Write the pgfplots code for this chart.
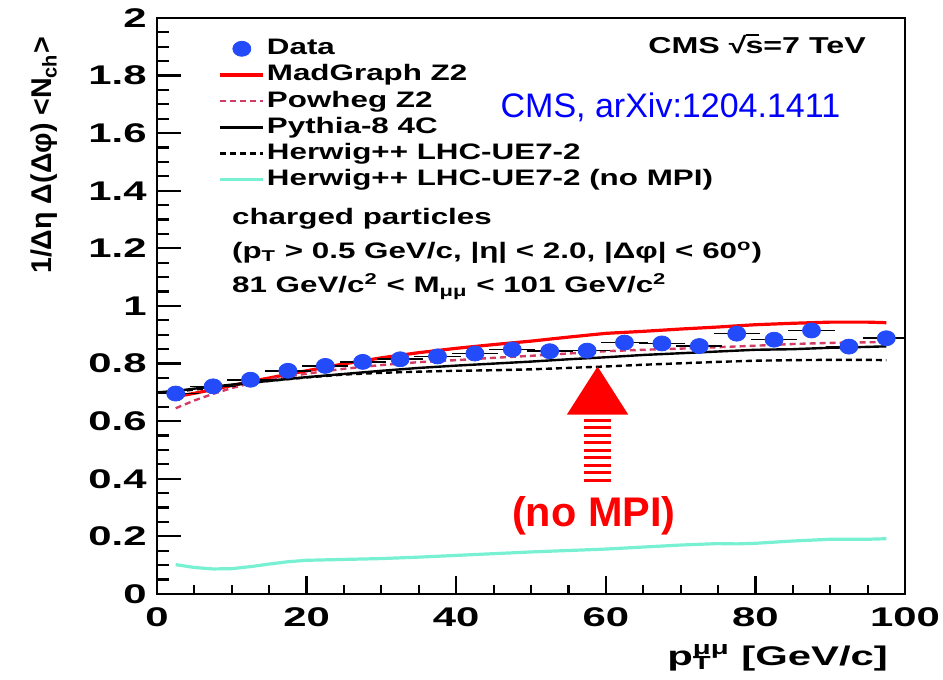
\documentclass[border=0pt]{standalone}
\usepackage{pgfplots}
\pgfplotsset{compat=1.18}
\usepackage{fontspec}
\setmainfont{Liberation Sans}
\newfontfamily\rootfont{Liberation Sans Bold}[FakeStretch=1.4]
\newfontfamily\tickfont{Liberation Sans Bold}[FakeStretch=1.55]
\definecolor{datablue}{RGB}{35,75,250}
\definecolor{powpink}{RGB}{210,60,100}
\definecolor{nompi}{RGB}{120,240,210}
\begin{document}
\begin{tikzpicture}
\begin{axis}[
  scale only axis,
  width=374pt, height=288pt,
  xmin=0, xmax=100, ymin=0, ymax=2,
  clip mode=individual,
  xtick={0,20,40,60,80,100},
  ytick={0,0.2,0.4,0.6,0.8,1,1.2,1.4,1.6,1.8,2},
  major tick length=0pt, minor tick length=0pt,
  axis line style={line width=1pt},
  /pgf/number format/assume math mode=true,
  ticklabel style={font=\tickfont\fontsize{13.5}{16}\selectfont},
  yticklabel style={inner sep=0pt, xshift=-5pt},
  xticklabel style={inner sep=0pt, yshift=-6.5pt},
  legend style={at={(rel axis cs:0.082,0.97)}, anchor=north west, draw=none, fill=none,
    font=\rootfont\fontsize{11.2}{13}\selectfont, row sep=0pt, inner sep=0pt,
    nodes={inner sep=1pt, text height=8.5pt, text depth=2.6pt}},
  legend cell align=left,
  legend image code/.code={\draw[mark repeat=2,mark phase=2,#1] plot coordinates {(0pt,0pt) (10.75pt,0pt) (21.5pt,0pt)};},
]
% tick marks (inside, left and bottom)
\pgfplotsinvokeforeach{20,40,60,80}{\draw[black,line width=1.1pt] (axis cs:#1,0) -- ([yshift=9pt]axis cs:#1,0);}
\pgfplotsinvokeforeach{5,10,15,25,30,35,45,50,55,65,70,75,85,90,95}{\draw[black,line width=1.1pt] (axis cs:#1,0) -- ([yshift=4.5pt]axis cs:#1,0);}
\pgfplotsinvokeforeach{0.2,0.4,0.6,0.8,1,1.2,1.4,1.6,1.8}{\draw[black,line width=1.1pt] (axis cs:0,#1) -- ([xshift=12pt]axis cs:0,#1);}
\pgfplotsinvokeforeach{0.05,0.1,0.15,0.25,0.3,0.35,0.45,0.5,0.55,0.65,0.7,0.75,0.85,0.9,0.95,1.05,1.1,1.15,1.25,1.3,1.35,1.45,1.5,1.55,1.65,1.7,1.75,1.85,1.9,1.95}{\draw[black,line width=1.1pt] (axis cs:0,#1) -- ([xshift=6pt]axis cs:0,#1);}
\addlegendimage{only marks, mark=*, mark size=3.75pt, mark options={fill=datablue, draw=datablue, xscale=1.2}}
\addlegendentry{Data}
\addplot[red, line width=1.6pt] coordinates {
(2.5,0.685) (5,0.697) (7.5,0.71) (10,0.724) (12.5,0.738) (15,0.75) (17.5,0.763) (20,0.775)
(25,0.799) (30,0.82) (35,0.838) (40,0.853) (45,0.866) (50,0.878) (55,0.892) (60,0.905)
(65,0.912) (70,0.92) (75,0.927) (80,0.935) (85,0.94) (90,0.944) (95,0.944) (97.5,0.942)};
\addlegendentry{MadGraph Z2}
\addplot[powpink, line width=1.2pt, dash pattern=on 3pt off 2pt] coordinates {
(2.5,0.645) (5,0.672) (7.5,0.695) (10,0.715) (12.5,0.732) (15,0.745) (20,0.765) (25,0.782)
(30,0.795) (35,0.805) (40,0.812) (45,0.82) (50,0.827) (55,0.835) (60,0.843) (65,0.848)
(70,0.852) (75,0.857) (80,0.862) (85,0.868) (90,0.872) (95,0.874) (97.5,0.874)};
\addlegendentry{Powheg Z2}
\addplot[black, line width=1.2pt] coordinates {
(0,0.70) (2.5,0.705) (5,0.713) (10,0.727) (15,0.74) (20,0.753) (25,0.764) (30,0.775)
(35,0.785) (40,0.793) (45,0.8) (50,0.807) (55,0.815) (60,0.822) (65,0.83) (70,0.836)
(75,0.842) (80,0.848) (85,0.85) (90,0.855) (95,0.858) (97.5,0.86)};
\addlegendentry{Pythia-8 4C}
\addplot[black, line width=1.2pt, dash pattern=on 3pt off 2pt] coordinates {
(0,0.70) (2.5,0.702) (5,0.71) (10,0.725) (15,0.74) (20,0.752) (25,0.762) (30,0.768)
(35,0.772) (40,0.775) (45,0.777) (50,0.78) (55,0.785) (60,0.79) (65,0.796) (70,0.801)
(75,0.806) (80,0.81) (85,0.812) (90,0.813) (95,0.813) (97.5,0.812)};
\addlegendentry{Herwig++ LHC-UE7-2}
\addplot[nompi, line width=1.6pt] coordinates {
(2.5,0.102) (5,0.092) (7.5,0.087) (10,0.088) (12.5,0.095) (15,0.104) (17.5,0.112) (20,0.117)
(25,0.12) (30,0.123) (35,0.128) (40,0.134) (45,0.14) (50,0.146) (55,0.151) (60,0.156)
(65,0.163) (70,0.17) (75,0.175) (77.5,0.174) (80,0.176) (85,0.184) (90,0.19) (95,0.19) (97.5,0.192)};
\addlegendentry{Herwig++ LHC-UE7-2 (no MPI)}
\addplot[forget plot, only marks, mark=*, mark size=3.75pt,
  mark options={fill=datablue, draw=datablue, xscale=1.2},
  error bars/.cd, x dir=both, x explicit,
  error bar style={black, line width=0.8pt},
  error mark options={black, line width=0.8pt, mark size=2.2pt}]
  table[x error=ex] {
x y ex
2.5 0.696 2.5
7.5 0.721 2.5
12.5 0.744 2.5
17.5 0.775 2.5
22.5 0.792 2.5
27.5 0.806 2.5
32.5 0.815 2.5
37.5 0.825 2.5
42.5 0.835 2.5
47.5 0.849 2.5
52.5 0.843 2.5
57.5 0.845 2.5
62.5 0.873 2.5
67.5 0.870 2.5
72.5 0.861 2.5
77.5 0.904 2.5
82.5 0.883 2.5
87.5 0.915 2.5
92.5 0.859 2.5
97.5 0.888 2.5
};
% annotations
\node[anchor=base east, font=\rootfont\fontsize{11.5}{13}\selectfont] at (rel axis cs:0.957,0.939) {CMS √\kern-0.5pt\rlap{\raisebox{0.5pt}{\rule[8.3pt]{0.58em}{0.7pt}}}s=7 TeV};
\node[anchor=base west, text=blue, font=\fontsize{17}{20}\selectfont] at (rel axis cs:0.45,0.828) {CMS, arXiv:1204.1411};
\node[anchor=base west, font=\rootfont\fontsize{11.2}{13}\selectfont] at (rel axis cs:0.091,0.642) {charged particles};
\node[anchor=base west, font=\rootfont\fontsize{11.2}{13}\selectfont] at (rel axis cs:0.091,0.583) {(p\textsubscript{T} > 0.5 GeV/c, |η| < 2.0, |Δφ| < 60\textsuperscript{o})};
\node[anchor=base west, font=\rootfont\fontsize{11.2}{13}\selectfont] at (rel axis cs:0.091,0.523) {81 GeV/c\textsuperscript{2} < M\textsubscript{μμ} < 101 GeV/c\textsuperscript{2}};
\fill[red] (axis cs:54.8,0.623) -- (axis cs:63.0,0.623) -- (axis cs:58.9,0.79) -- cycle;
\draw[red, line width=13.5pt, dash pattern=on 1.4pt off 2.35pt] (axis cs:58.9,0.39) -- (axis cs:58.9,0.616);
\node[anchor=base, text=red, font=\bfseries\fontsize{20.7}{24}\selectfont] at (axis cs:58.4,0.233) {(no MPI)};
\node[rotate=90, anchor=base east, font=\bfseries\fontsize{14.3}{17}\selectfont] at ([shift={(-52.5pt,-6pt)}]rel axis cs:0,1) {1/Δη Δ(Δφ) <N\textsubscript{ch}>};
\node[anchor=base east, font=\tickfont\fontsize{13.5}{16}\selectfont] at ([shift={(-5pt,-35.5pt)}]rel axis cs:1,0) {p\rlap{\textsubscript{T}}\textsuperscript{μμ} [GeV/c]};
\end{axis}
\pgfresetboundingbox
\path[use as bounding box] ([shift={(-78.5pt,-43pt)}]current axis.south west) rectangle ([shift={(19pt,9pt)}]current axis.north east);
\end{tikzpicture}
\end{document}
